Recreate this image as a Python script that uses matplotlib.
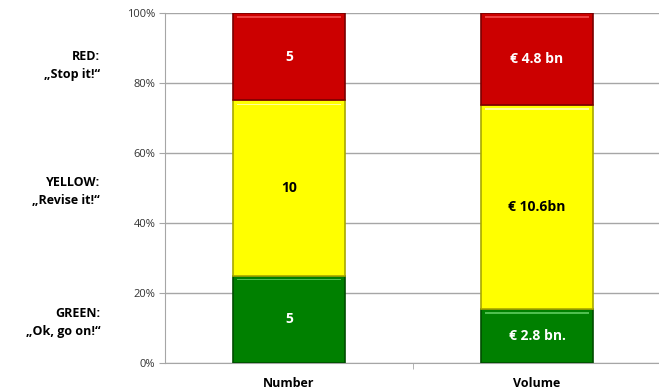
import matplotlib
matplotlib.use("Agg")
import matplotlib.pyplot as plt
import numpy as np

categories = ["Number", "Volume"]
green_vals = [5, 2.8]
yellow_vals = [10, 10.6]
red_vals = [5, 4.8]
green_labels = ["5", "€ 2.8 bn."]
yellow_labels = ["10", "€ 10.6bn"]
red_labels = ["5", "€ 4.8 bn"]
side_labels = ["GREEN:\n„Ok, go on!“", "YELLOW:\n„Revise it!“", "RED:\n„Stop it!“"]
side_label_pos = [11.7, 48.9, 84.9]
yticks = [0, 20, 40, 60, 80, 100]

plt.rcParams['font.family'] = ['Open Sans', 'DejaVu Sans']

fig = plt.figure(figsize=(6.59, 3.92), dpi=100)
ax = fig.add_axes([165/659, 1-363/392, 496/659, 350/392])

g = np.array(green_vals, float)
y = np.array(yellow_vals, float)
r = np.array(red_vals, float)
tot = g + y + r
gp, yp, rp = g/tot*100, y/tot*100, r/tot*100
x = np.arange(len(categories))
w = 0.45

segs = [(gp, np.zeros_like(gp), "#008000", "#004d00", "#4fbf4f", green_labels, "white"),
        (yp, gp, "#FFFF00", "#a8a800", "#ffff99", yellow_labels, "black"),
        (rp, gp+yp, "#CC0000", "#7a0000", "#ee4040", red_labels, "white")]
for h, b, c, ec, hl, labs, tc in segs:
    ax.bar(x, h, w, bottom=b, color=c, edgecolor=ec, linewidth=1.2, zorder=3)
    # top highlight
    ax.bar(x, 0.5, w*0.94, bottom=b+h-1.4, color=hl, linewidth=0, zorder=4)
    for xi, hi, bi, lab in zip(x, h, b, labs):
        ax.text(xi, bi+hi/2, lab, ha="center", va="center", color=tc,
                fontsize=10, fontweight="bold", zorder=5)

ax.set_xlim(-0.5, 1.5)
ax.set_ylim(0, 100)
ax.set_yticks(yticks)
ax.set_yticklabels([f"{t}%" for t in yticks], fontsize=8, color="#333333")
ax.yaxis.grid(True, color="#A6A6A6", linewidth=1, zorder=0)
ax.set_xticks(x)
ax.set_xticklabels(categories, fontsize=9, fontweight="bold")
ax.tick_params(axis="x", length=0, pad=10)
ax.set_xticks([0.5], minor=True)
ax.tick_params(axis="x", which="minor", length=4, color="#A6A6A6")
ax.tick_params(axis="y", length=4, color="#A6A6A6", pad=3)
for s in ["top", "right"]:
    ax.spines[s].set_visible(False)
for s in ["left", "bottom"]:
    ax.spines[s].set_color("#A6A6A6")

for txt, pos in zip(side_labels, side_label_pos):
    ax.text(-0.5 - 65/248, pos, txt, ha="right", va="center", fontsize=9,
            fontweight="bold", linespacing=1.5, transform=ax.transData, clip_on=False)

fig.savefig("out.png", dpi=100)
